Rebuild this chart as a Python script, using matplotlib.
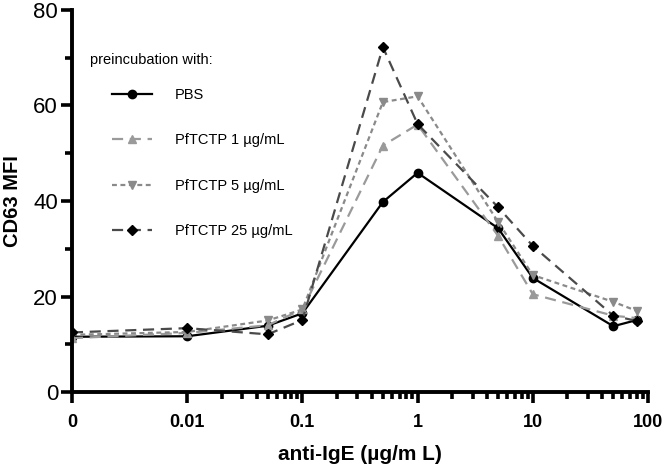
import numpy as np
import matplotlib
matplotlib.use("Agg")
import matplotlib.pyplot as plt
from matplotlib.ticker import FixedLocator, FixedFormatter, MultipleLocator

plt.rcParams["font.family"] = ["Liberation Sans", "DejaVu Sans"]

# anti-IgE concentrations; 0 is drawn at the 0.001 position of the log axis
conc = [0.001, 0.01, 0.05, 0.1, 0.5, 1, 5, 10, 50, 80]
pbs = [11.6, 11.7, 13.9, 16.5, 39.8, 45.9, 34.3, 23.9, 13.8, 15.1]
pf1 = [11.3, 12.4, 14.0, 17.3, 51.6, 56.0, 32.7, 20.5, 16.0, 15.5]
pf5 = [12.0, 12.6, 15.0, 17.3, 60.7, 61.9, 35.6, 24.5, 18.9, 17.0]
pf25 = [12.5, 13.4, 12.1, 15.1, 72.2, 56.1, 38.7, 30.6, 16.0, 14.9]

xticks = [0.001, 0.01, 0.1, 1, 10, 100]
xticklabels = ["0", "0.01", "0.1", "1", "10", "100"]

W, H = 666, 468
fig = plt.figure(figsize=(W / 100, H / 100), dpi=100)
ax = fig.add_axes([0.108, 0.162, 0.865, 0.817])

ax.plot(conc, pbs, color="black", lw=1.6, marker="o", ms=6, label="PBS")
ax.plot(conc, pf1, color="#9a9a9a", lw=1.6, ls=(0, (5, 3)), marker="^", ms=6,
        label="PfTCTP 1 µg/mL")
ax.plot(conc, pf5, color="#8a8a8a", lw=1.6, ls=(0, (2.2, 1.6)), marker="v", ms=6,
        label="PfTCTP 5 µg/mL")
ax.plot(conc, pf25, color="#4a4a4a", lw=1.6, ls=(0, (5, 3)), marker="D", ms=5.5,
        mfc="black", mec="black", label="PfTCTP 25 µg/mL")

ax.set_xscale("log")
ax.set_xlim(0.001, 100)
ax.set_ylim(0, 80)
ax.xaxis.set_major_locator(FixedLocator(xticks))
ax.xaxis.set_major_formatter(FixedFormatter(xticklabels))
minors = [m * 10.0 ** k for k in range(-2, 2) for m in range(2, 10)]
ax.xaxis.set_minor_locator(FixedLocator(minors))
ax.xaxis.set_minor_formatter(FixedFormatter([""] * len(minors)))
ax.yaxis.set_major_locator(MultipleLocator(20))
ax.yaxis.set_minor_locator(MultipleLocator(10))

for s in ["top", "right"]:
    ax.spines[s].set_visible(False)
for s in ["left", "bottom"]:
    ax.spines[s].set_linewidth(2.8)
ax.tick_params(which="major", length=8, width=2.6, direction="out")
ax.tick_params(which="minor", length=5, width=2.6, direction="out")
ax.tick_params(axis="y", labelsize=16, pad=2)
ax.tick_params(axis="x", labelsize=13, pad=8)
for t in ax.get_xticklabels():
    t.set_fontweight("bold")

ax.set_ylabel("CD63 MFI", fontsize=14.5, fontweight="bold", labelpad=8)
ax.set_xlabel("anti-IgE (µg/m L)", fontsize=15, fontweight="bold", labelpad=10)

# legend title sits left of the indented entries
fig.text(90 / W, 1 - 60 / H, "preincubation with:", fontsize=10.5,
         ha="left", va="center")
leg = ax.legend(loc="upper left", bbox_to_anchor=(112 / W, 1 - 88 / H),
                bbox_transform=fig.transFigure, frameon=False, fontsize=10.5,
                labelspacing=2.15, handlelength=2.75, handletextpad=1.55,
                borderaxespad=0, borderpad=0)

fig.savefig("out.png", dpi=100)
